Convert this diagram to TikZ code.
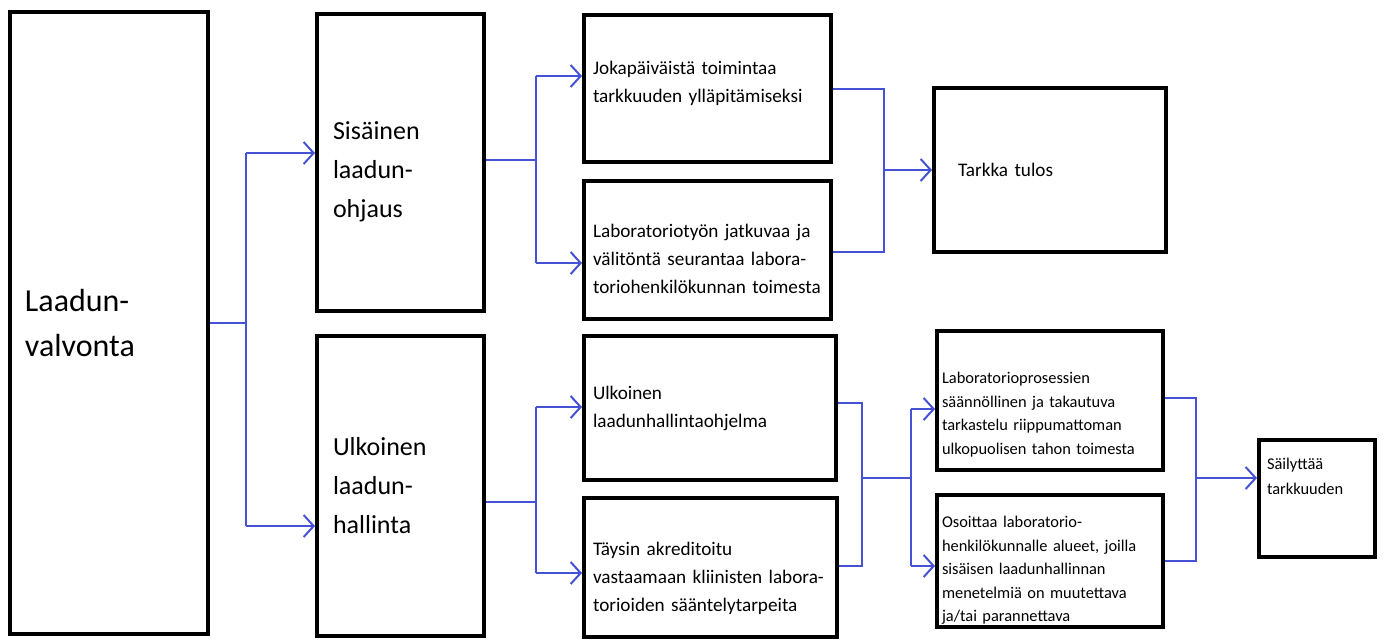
\documentclass[tikz,border=0pt]{standalone}
\usepackage{fontspec}
\setmainfont{Carlito}
\usepackage{tikz}
\usetikzlibrary{arrows.meta}
\definecolor{linkblue}{RGB}{70,82,214}

\begin{document}
\begin{tikzpicture}[x=0.5pt,y=-0.5pt,>={Straight Barb[length=5pt,width=11pt]}]
        \useasboundingbox (0,0) rectangle (1384,639);
        \tikzstyle{every node} = [rectangle, draw, line width=2pt, align=left, inner ysep=0pt]
        \tikzstyle{big} = [font=\fontsize{16}{22.5}\selectfont, inner xsep=7.5pt, text width=84pt]
        \tikzstyle{mid} = [font=\fontsize{13}{19.5}\selectfont, inner xsep=8pt, text width=67.5pt]
        \tikzstyle{small} = [font=\fontsize{9.6}{14}\selectfont, inner xsep=4.5pt]
        \tikzstyle{tiny} = [font=\fontsize{8.2}{11.8}\selectfont, inner xsep=2.5pt]
        \tikzstyle{link} = [draw=linkblue, line width=1pt]

        % boxes
        \node[big, minimum width=99pt, minimum height=311pt] (0) at (109,323) {Laadun-\\valvonta};
        \node[mid, minimum width=83.5pt, minimum height=148.5pt] (1) at (400.5,162.5) {\rule{0pt}{18pt}Sisäinen\\laadun-\\ohjaus};
        \node[mid, minimum width=83.5pt, minimum height=150pt] (2) at (400.5,486) {Ulkoinen\\laadun-\\hallinta};
        \node[small, text width=114.5pt, minimum height=73.5pt] (3) at (707.5,88.5) {Jokapäiväistä toimintaa\\tarkkuuden ylläpitämiseksi\rule[-7pt]{0pt}{0pt}};
        \node[small, text width=114.5pt, minimum height=69pt] (4) at (707.5,250) {\rule{0pt}{16pt}Laboratoriotyön jatkuvaa ja\\välitöntä seurantaa labora-\\toriohenkilökunnan toimesta};
        \node[small, inner xsep=12pt, text width=92pt, minimum height=82pt] (5) at (1050,170) {Tarkka tulos};
        \node[small, text width=117pt, minimum height=72pt] (6) at (710,408) {Ulkoinen\\laadunhallintaohjelma};
        \node[small, text width=117.5pt, minimum height=69.5pt] (7) at (710.5,567.5) {\rule{0pt}{18pt}Täysin akreditoitu\\vastaamaan kliinisten labora-\\torioiden sääntelytarpeita};
        \node[tiny, text width=108pt, minimum height=69.5pt] (8) at (1050,400.5) {\rule{0pt}{20pt}Laboratorioprosessien\\säännöllinen ja takautuva\\tarkastelu riippumattoman\\ulkopuolisen tahon toimesta};
        \node[tiny, text width=108pt, minimum height=66pt] (9) at (1050,561) {\rule{0pt}{15pt}Osoittaa laboratorio-\\henkilökunnalle alueet, joilla\\sisäisen laadunhallinnan\\menetelmiä on muutettava\\ja/tai parannettava};
        \node[tiny, inner xsep=4pt, text width=50pt, minimum height=58.5pt, font=\fontsize{8.2}{12.5}\selectfont] (10) at (1317,498.5) {Säilyttää\\tarkkuuden\rule[-22pt]{0pt}{0pt}};

        % junctions
        \coordinate (a1) at (246,153);  \coordinate (a2) at (246,526);
        \coordinate (b0) at (536,160);  \coordinate (b1) at (536,76);   \coordinate (b2) at (536,263);
        \coordinate (c1) at (884,89);   \coordinate (c2) at (884,252);
        \coordinate (d0) at (536,502);  \coordinate (d1) at (536,407);  \coordinate (d2) at (536,573);
        \coordinate (e1) at (862,403);  \coordinate (e2) at (862,566);  \coordinate (e0) at (862,478);
        \coordinate (f1) at (911,409);  \coordinate (f2) at (911,566);
        \coordinate (g1) at (1196,398); \coordinate (g2) at (1196,561); \coordinate (g0) at (1196,478);

        \draw[link] (0.east) -- (0.east -| a1);
        \draw[link] (a1) -- (a2);
        \draw[link] (b0 -| 1.east) -- (b0);
        \draw[link] (b1) -- (b2);
        \draw[link] (c1 -| 3.east) -- (c1) -- (c2) -- (c2 -| 4.east);
        \draw[link] (d0 -| 2.east) -- (d0);
        \draw[link] (d1) -- (d2);
        \draw[link] (e1 -| 6.east) -- (e1) -- (e2) -- (e2 -| 7.east);
        \draw[link] (e0) -- (e0 -| f1);
        \draw[link] (f1) -- (f2);
        \draw[link] (g1 -| 8.east) -- (g1) -- (g2) -- (g2 -| 9.east);

        \foreach \from/\to in {a1/1, a2/2, b1/3, b2/4, d1/6, d2/7, f1/8, f2/9, g0/10}
            \draw[link, ->] (\from) -- (\from -| \to.west);
        \draw[link, ->] (c1 |- 5.west) -- (5.west);
      \end{tikzpicture}
\end{document}
